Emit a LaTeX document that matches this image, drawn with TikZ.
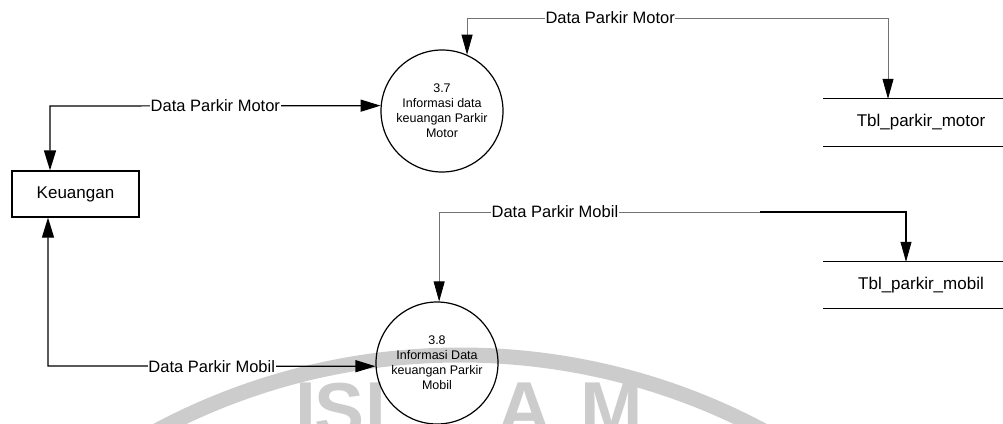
\documentclass[tikz,border=0pt]{standalone}
\usepackage{fontspec}
\setmainfont{Liberation Sans}
\usetikzlibrary{arrows.meta}
\tikzset{
  bidir/.style={line width=1.2pt,
    {Triangle[length=20pt,width=12pt]}-{Triangle[length=20pt,width=12pt]}},
  thinbidir/.style={line width=0.8pt, draw=black!55,
    {Triangle[length=20pt,width=11pt,color=black]}-{Triangle[length=20pt,width=11pt,color=black]}},
  proc/.style={circle, draw, line width=1.2pt, minimum size=122pt, inner sep=0pt,
    align=center, font=\fontsize{12.5}{15}\selectfont},
  ent/.style={draw, line width=1.2pt, minimum width=127pt, minimum height=46pt,
    inner sep=0pt, font=\fontsize{17}{20}\selectfont},
  store/.style={minimum width=196pt, minimum height=47pt, inner sep=0pt,
    font=\fontsize{17}{20}\selectfont},
  storeline/.style={line width=1.2pt},
  lbl/.style={fill=white, inner sep=0.6pt, font=\fontsize{16.5}{18}\selectfont},
  wm/.style={text=black!20, inner sep=0pt, font=\bfseries\fontsize{75}{75}\selectfont},
}
\begin{document}
\begin{tikzpicture}[x=1pt,y=-1pt]
\useasboundingbox (0,0) rectangle (1003,423);
% watermark
\begin{scope}
  \clip (0,0) rectangle (1003,423);
  \draw[black!20, line width=15pt] (460,1000) circle[radius=645];
  \node[wm, anchor=north] (wI) at (306,383) {I};
  \node[wm, anchor=north] (wS) at (340,383) {S};
  \node[wm, anchor=north west] (wL) at (365,383) {L};
  \node[wm, anchor=north] (wA) at (525,383) {A};
  \node[wm, anchor=north] (wM) at (612,383) {M};
\end{scope}

% nodes
\node[proc] (p37) at (442,111) {3.7\\Informasi data\\keuangan Parkir\\Motor};
\node[proc] (p38) at (437,363) {3.8\\Informasi Data\\keuangan Parkir\\Mobil};
\node[ent] (keu) at (75.5,194) {Keuangan};
\node[store] (sm) at (921,122.5) {Tbl\_parkir\_motor};
\node[store, minimum height=46pt] (sb) at (921,285) {Tbl\_parkir\_mobil};
\draw[storeline] (sm.north west) -- (sm.north east) (sm.south west) -- (sm.south east);
\draw[storeline] (sb.north west) -- (sb.north east) (sb.south west) -- (sb.south east);

% coordinates
\coordinate (k1) at (50,106);
\coordinate (k2) at (48,366);
\coordinate (t2) at (888,18);
\coordinate (t3) at (906,212);
\coordinate (t4) at (760,212);

% connectors
\draw[bidir] (keu.north -| k1) -- (k1) -- node[lbl]{Data Parkir Motor} (p37.175);
\draw[bidir] (keu.south -| k2) -- (k2) -- node[lbl]{Data Parkir Mobil} (p38.183);
\draw[thinbidir] (p37.66) |- node[lbl, pos=0.67]{Data Parkir Motor} (t2) -- (sm.north -| t2);
\draw[thinbidir] (p38.88) |- node[lbl, pos=0.624]{Data Parkir Mobil} (t3) -- (sb.north -| t3);
\draw[line width=1.2pt, shorten >=18pt] (t4) -- (t3) -- (sb.north -| t3);
\end{tikzpicture}
\end{document}
